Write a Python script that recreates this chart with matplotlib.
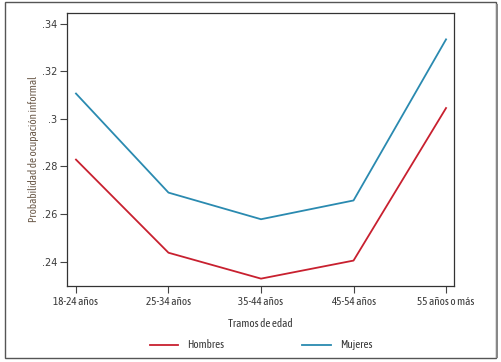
import matplotlib
matplotlib.use("Agg")
import matplotlib.pyplot as plt
from matplotlib.patches import Rectangle
from matplotlib.lines import Line2D
from matplotlib import font_manager as fm

_installed = set(f.name for f in fm.fontManager.ttflist)
_pref = ['Asap Condensed', 'PT Sans Narrow', 'Archivo Narrow', 'Roboto Condensed',
         'Liberation Sans Narrow', 'Liberation Sans']
_font = next((f for f in _pref if f in _installed), 'DejaVu Sans')
plt.rcParams['font.family'] = [_font, 'DejaVu Sans']

categories = ["18-24 años", "25-34 años", "35-44 años", "45-54 años", "55 años o más"]
hombres = [0.2829, 0.2437, 0.2328, 0.2404, 0.3046]
mujeres = [0.3107, 0.2690, 0.2578, 0.2657, 0.3335]
yticks = [0.24, 0.26, 0.28, 0.30, 0.32, 0.34]
yticklabels = [".24", ".26", ".28", ".3", ".32", ".34"]

red = "#c8202f"
blue = "#2a8ab0"
txt = "#3a3a3a"
fs = 8

fig = plt.figure(figsize=(5.01, 3.62), dpi=100)
# outer frame with slight shadow on right/bottom
fig.patches.append(Rectangle((5/501, 1 - 358/362), 491/501, 356/362,
                             transform=fig.transFigure, fill=False,
                             edgecolor="#555555", linewidth=1.0))
fig.patches.append(Rectangle((496/501, 1 - 358/362), 2/501, 354/362,
                             transform=fig.transFigure, facecolor="#888888",
                             edgecolor="none"))

ax = fig.add_axes([67/501, 1 - 286/362, 387/501, 273/362])
x = list(range(len(categories)))
ax.plot(x, hombres, color=red, linewidth=1.3)
ax.plot(x, mujeres, color=blue, linewidth=1.3)

ax.set_xlim(-0.097, 4.086)
ax.set_ylim(0.2297, 0.3446)
ax.set_xticks(x)
ax.set_xticklabels(categories)
ax.set_yticks(yticks)
ax.set_yticklabels(yticklabels, family=['DejaVu Sans Condensed', 'DejaVu Sans'])
ax.tick_params(axis='both', labelsize=fs, colors="#444444", labelcolor=txt,
               length=5, width=0.8, pad=2)
ax.tick_params(axis='y', labelsize=7)
for s in ax.spines.values():
    s.set_color("#333333")
    s.set_linewidth(0.9)

ax.set_xlabel("Tramos de edad", fontsize=fs, color=txt, labelpad=8)
ax.set_ylabel("Probabilidad de ocupación informal", fontsize=fs, color="#6b5a4a", labelpad=2)

handles = [Line2D([], [], color=red, linewidth=1.3),
           Line2D([], [], color=blue, linewidth=1.3)]
fig.legend(handles, ["Hombres", "Mujeres"], loc="center",
           bbox_to_anchor=(261/501, 1 - 345/362), ncol=2, frameon=False,
           fontsize=fs, handlelength=2.6, columnspacing=7, handletextpad=0.8,
           labelcolor=txt)

fig.savefig("out.png", dpi=100)
